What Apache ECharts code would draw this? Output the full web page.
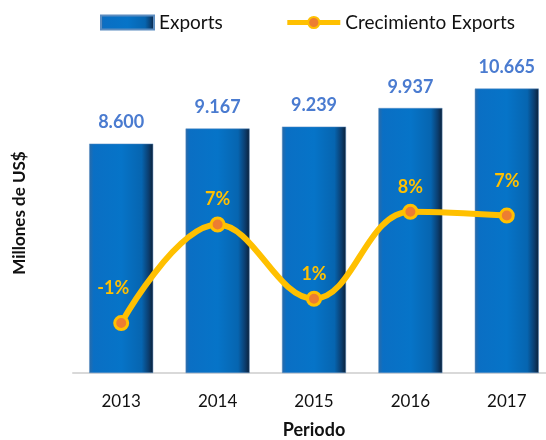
<!DOCTYPE html>
<html>
<head>
<meta charset="utf-8">
<script src="https://cdn.jsdelivr.net/npm/echarts@6/dist/echarts.min.js"></script>
<style>
  html, body { margin: 0; padding: 0; background: #fff; }
  #chart { width: 546px; height: 440px; }
</style>
</head>
<body>
<div id="chart"></div>
<script>
// datos
const years = ["2013", "2014", "2015", "2016", "2017"];
const exportsValues = [8.600, 9.167, 9.239, 9.937, 10.665];
const growthValues = [-1.1, 6.6, 0.8, 7.6, 7.3];

const chart = echarts.init(document.getElementById("chart"));

const barGradient = new echarts.graphic.LinearGradient(0, 0, 1, 0, [
  { offset: 0, color: "#2a6aa8" },
  { offset: 0.07, color: "#0a6fc4" },
  { offset: 0.5, color: "#0674c8" },
  { offset: 0.82, color: "#0665b0" },
  { offset: 0.93, color: "#0b3d6e" },
  { offset: 1, color: "#0a2038" },
]);

// separación de las etiquetas de % (más alta en los extremos)
const growthLabelDistance = [18, 8, 8, 8, 17];
const growthData = growthValues.map((v, i) => ({
  value: v,
  label: { distance: growthLabelDistance[i], offset: i === 0 ? [-8, 0] : [0, 0] },
}));

const option = {
  textStyle: { fontFamily: "Lato" },
  legend: {
    top: 8,
    left: 95,
    itemGap: 62,
    itemWidth: 53,
    itemHeight: 14,
    textStyle: { fontSize: 19, color: "#111", fontFamily: "Lato" },
    data: [
      { name: "Exports", icon: "rect" },
      { name: "Crecimiento Exports", lineStyle: { width: 5, color: "#ffc000" } },
    ],
  },
  grid: { left: 73, top: 53, bottom: 67, right: -9, outerBoundsMode: "none", containLabel: false },
  xAxis: {
    type: "category",
    data: years,
    name: "Periodo",
    nameLocation: "middle",
    nameGap: 48,
    nameTextStyle: { fontSize: 18, fontWeight: "bold", color: "#111" },
    axisLine: { lineStyle: { color: "#d9d9d9", width: 2 } },
    axisTick: { show: false },
    axisLabel: { fontSize: 17, color: "#111", margin: 20 },
  },
  yAxis: [
    {
      type: "value",
      min: 0,
      max: 12,
      name: "Millones de US$",
      nameLocation: "middle",
      nameGap: 45,
      nameTextStyle: { fontSize: 17, fontWeight: "bold", color: "#111" },
      axisLine: { show: false },
      axisTick: { show: false },
      axisLabel: { show: false },
      splitLine: { show: false },
    },
    {
      type: "value",
      min: -5,
      max: 20,
      show: false,
      splitLine: { show: false },
    },
  ],
  series: [
    {
      name: "Exports",
      type: "bar",
      data: exportsValues,
      barWidth: 64,
      itemStyle: { color: barGradient, borderColor: "#5b8cc0", borderWidth: 0.5 },
      label: {
        show: true,
        position: "top",
        distance: 12,
        fontSize: 18,
        fontWeight: "bold",
        color: "#4a7bd0",
        formatter: (p) => p.value.toFixed(3),
      },
    },
    {
      name: "Crecimiento Exports",
      type: "line",
      yAxisIndex: 1,
      data: growthData,
      smooth: 0.4,
      symbol: "circle",
      symbolSize: 13,
      lineStyle: { color: "#ffc000", width: 6 },
      itemStyle: { color: "#ed7d31", borderColor: "#ffc000", borderWidth: 3 },
      label: {
        show: true,
        position: "top",
        fontSize: 18,
        fontWeight: "bold",
        color: "#ffc000",
        formatter: (p) => Math.round(p.value) + "%",
      },
    },
  ],
};

chart.setOption(option);
</script>
</body>
</html>
